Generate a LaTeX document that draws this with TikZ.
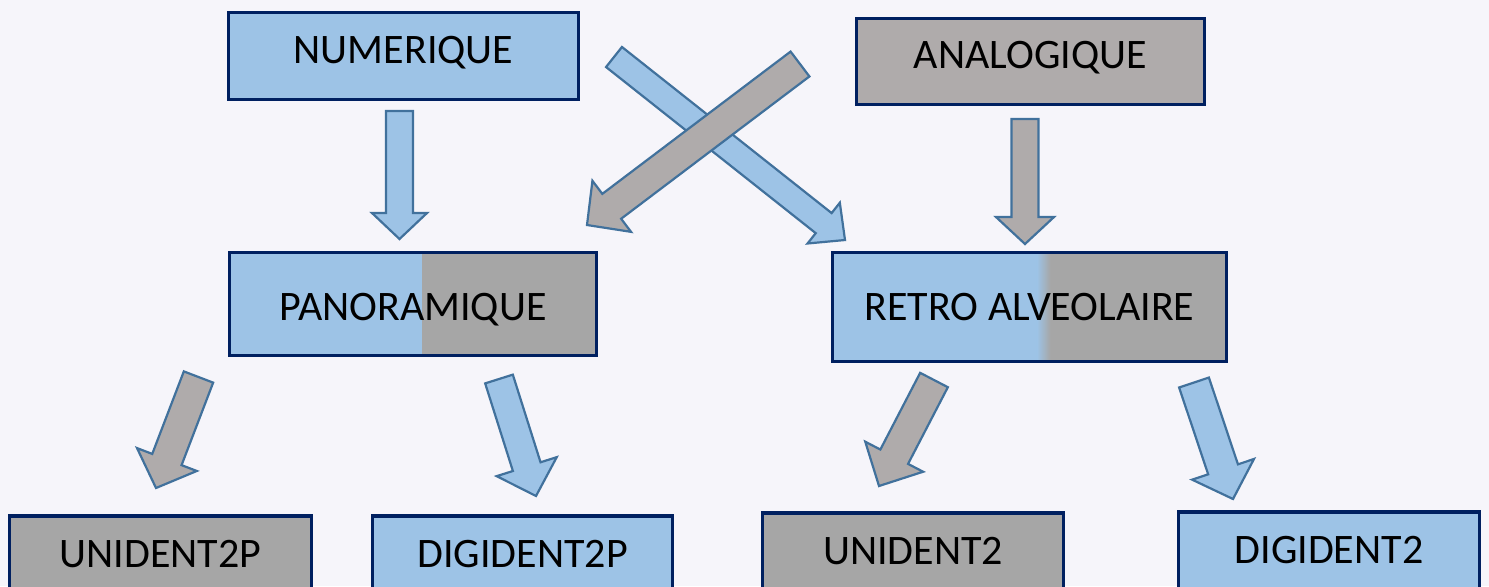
\documentclass[tikz,border=0pt]{standalone}
\usepackage{fontspec}
\setmainfont{Carlito}
\usetikzlibrary{calc}
\definecolor{boxblue}{RGB}{157,195,230}
\definecolor{boxborder}{RGB}{0,32,96}
\definecolor{arrborder}{RGB}{65,113,156}
\definecolor{arrgray}{RGB}{175,171,171}
\definecolor{boxgray}{RGB}{166,166,166}
\definecolor{bgcol}{RGB}{246,245,250}
\newcommand\blockarrow[6]{%
  \coordinate (bah) at ($(#3)!#6!(#2)$);
  \draw[#1] ($(#2)!#4!90:(#3)$) -- ($(bah)!#4!90:(#3)$) -- ($(bah)!#5!90:(#3)$) -- (#3)
    -- ($(bah)!#5!-90:(#3)$) -- ($(bah)!#4!-90:(#3)$) -- ($(#2)!#4!-90:(#3)$) -- cycle;}
\begin{document}
\begin{tikzpicture}[x=0.5pt,y=-0.5pt,
  box/.style={draw=boxborder, line width=1.75pt, inner sep=0pt,
    font=\fontsize{21pt}{25pt}\selectfont, text height=7pt, text depth=0pt},
  bluebox/.style={box, fill=boxblue},
  graybox/.style={box, fill=boxgray},
  anabox/.style={box, fill=arrgray},
  bluearr/.style={draw=arrborder, line width=1.1pt, fill=boxblue, line join=miter},
  grayarr/.style={draw=arrborder, line width=1.1pt, fill=arrgray, line join=miter}]
\useasboundingbox (0,0) rectangle (1489,586);
\fill[bgcol] (0,0) rectangle (1489,586);

% top boxes
\node[bluebox, minimum width=175pt, minimum height=43.5pt] (num) at (403.5,56) {NUMERIQUE};
\node[anabox, minimum width=174pt, minimum height=43pt] (ana) at (1030.5,61.5) {ANALOGIQUE};

% middle boxes
\node[bluebox, minimum width=183.5pt, minimum height=51.5pt, text height=16pt,
  path picture={\fill[boxgray]
    ($(path picture bounding box.south west)!0.5245!(path picture bounding box.south east)$)
    rectangle (path picture bounding box.north east);}]
  (pano) at (413,304) {PANORAMIQUE};
\node[bluebox, minimum width=197pt, minimum height=54.5pt, text height=13pt,
  path picture={\fill[boxgray]
    ($(path picture bounding box.south west)!0.551!(path picture bounding box.south east)$)
    rectangle (path picture bounding box.north east);
    \shade[left color=boxblue, right color=boxgray]
    ($(path picture bounding box.south west)!0.519!(path picture bounding box.south east)$)
    rectangle ($(path picture bounding box.north west)!0.553!(path picture bounding box.north east)$);}]
  (retro) at (1029.5,307) {RETRO ALVEOLAIRE};

% bottom boxes
\node[graybox, minimum width=151pt, minimum height=44pt] (u2p) at (160.5,560) {UNIDENT2P};
\node[bluebox, minimum width=150pt, minimum height=44pt] (d2p) at (522.5,560) {DIGIDENT2P};
\node[graybox, minimum width=150.5pt, minimum height=44pt] (u2) at (913,557) {UNIDENT2};
\node[bluebox, minimum width=150.5pt, minimum height=44pt] (d2) at (1329,556) {DIGIDENT2};

% arrow end points
\coordinate (a1s) at (399.5,111);  \coordinate (a1e) at (399.5,239);
\coordinate (a2s) at (1025,119);   \coordinate (a2e) at (1025,244);
\coordinate (a3s) at (614,57);     \coordinate (a3e) at (845,240);
\coordinate (a4s) at (800,64);     \coordinate (a4e) at (587,225);
\coordinate (a5s) at (198.5,377);  \coordinate (a5e) at (156,488);
\coordinate (a6s) at (499,379);    \coordinate (a6e) at (536,496);
\coordinate (a7s) at (934,380);    \coordinate (a7e) at (879,486);
\coordinate (a8s) at (1194,382.5); \coordinate (a8e) at (1233,499);

\blockarrow{bluearr}{a1s}{a1e}{6.75pt}{13.75pt}{13pt}
\blockarrow{grayarr}{a2s}{a2e}{6.75pt}{14.5pt}{13.5pt}
\blockarrow{bluearr}{a3s}{a3e}{6.4pt}{13pt}{13.6pt}
\blockarrow{grayarr}{a4s}{a4e}{7.8pt}{16pt}{15.5pt}
\blockarrow{grayarr}{a5s}{a5e}{7.85pt}{16pt}{15.25pt}
\blockarrow{bluearr}{a6s}{a6e}{7.25pt}{15.75pt}{15.4pt}
\blockarrow{grayarr}{a7s}{a7e}{7.8pt}{16.3pt}{16.5pt}
\blockarrow{bluearr}{a8s}{a8e}{7.85pt}{16.3pt}{15.65pt}
\end{tikzpicture}
\end{document}
